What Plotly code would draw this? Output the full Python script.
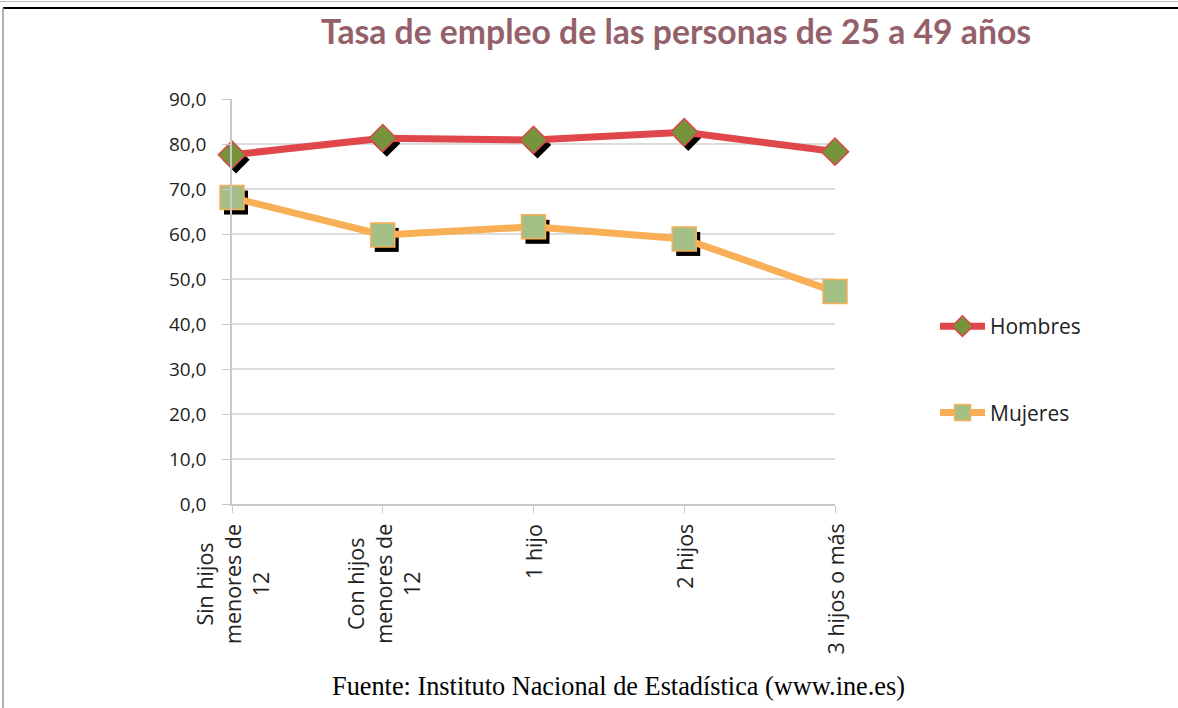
import plotly.graph_objects as go

categories = ["Sin hijos<br>menores de<br>12", "Con hijos<br>menores de<br>12", "1 hijo", "2 hijos", "3 hijos o más"]
hombres = [77.6, 81.3, 80.9, 82.6, 78.3]
mujeres = [68.1, 59.8, 61.6, 58.9, 47.2]
y_ticks = [0, 10, 20, 30, 40, 50, 60, 70, 80, 90]

W, H = 1178, 708
L, R, T, B = 232, 343, 99, 204
pw, ph = W - L - R, H - T - B
xs = list(range(len(categories)))

def px2paper_x(p):
    return (p - L) / pw

def px2paper_y(p):
    return (H - B - p) / ph

# shadow offsets (pixels -> data units)
sx = 4 / pw * (len(categories) - 1)
sy = 5 / ph * 90

fig = go.Figure()

series = [
    ("Hombres", hombres, "#E0474A", "diamond", 21, "#77933C", "#D9484A"),
    ("Mujeres", mujeres, "#F9AF55", "square", 24, "#A4BF86", "#F9AF55"),
]
for name, vals, lc, sym, sz, fc, oc in series:
    fig.add_trace(go.Scatter(
        x=[x + sx for x in xs], y=[v - sy for v in vals], mode="markers",
        marker=dict(symbol=sym, size=sz, color="black", line=dict(width=0)),
        showlegend=False, hoverinfo="skip", cliponaxis=False))
    fig.add_trace(go.Scatter(
        x=xs, y=vals, mode="lines+markers", name=name,
        line=dict(color=lc, width=7),
        marker=dict(symbol=sym, size=sz, color=fc, line=dict(color=oc, width=1.5)),
        cliponaxis=False, legendgroup=name))

annotations = [dict(text="Fuente: Instituto Nacional de Estadística (www.ine.es)",
                    xref="paper", yref="paper", x=px2paper_x(618), y=px2paper_y(686),
                    xanchor="center", yanchor="middle", showarrow=False,
                    font=dict(family="Liberation Serif, serif", size=26.3, color="black"))]
for i, cat in enumerate(categories):
    annotations.append(dict(text=cat, xref="x", yref="paper", x=i, y=px2paper_y(522),
                            xanchor="center", yanchor="top", textangle=-90, align="center",
                            showarrow=False,
                            font=dict(family="Open Sans, sans-serif", size=21.5, color="#222")))

fig.update_layout(
    width=W, height=H,
    margin=dict(l=L, r=R, t=T, b=B),
    paper_bgcolor="white", plot_bgcolor="white",
    separators=",.",
    font=dict(family="Open Sans, sans-serif", color="#222"),
    title=dict(text="<b>Tasa de empleo de las personas de 25 a 49 años</b>",
               x=676 / W, xanchor="center", y=1 - 32 / H, yanchor="middle",
               font=dict(family="Lato, sans-serif", size=33.7, color="#94606A")),
    showlegend=True,
    legend=dict(x=px2paper_x(935), y=px2paper_y(306), xanchor="left", yanchor="top",
                font=dict(size=21, family="Open Sans, sans-serif", color="#222"),
                itemwidth=45, tracegroupgap=56, bgcolor="rgba(0,0,0,0)"),
    xaxis=dict(range=[0, len(categories) - 1], tickmode="array", tickvals=xs,
               showticklabels=False, showgrid=False, zeroline=False,
               showline=True, linecolor="#C8C8C8", linewidth=1.5,
               ticks="outside", ticklen=7, tickcolor="#C8C8C8"),
    yaxis=dict(range=[0, 90], tickmode="array", tickvals=y_ticks, tickformat=".1f",
               showgrid=True, gridcolor="#DCDCDC", gridwidth=1.5, zeroline=False,
               showline=True, linecolor="#C8C8C8", linewidth=1.5,
               ticks="outside", ticklen=8, tickcolor="#C8C8C8",
               ticklabelstandoff=12,
               tickfont=dict(size=19, family="Open Sans, sans-serif", color="#222")),
    annotations=annotations,
    shapes=[
        dict(type="line", xref="paper", yref="paper", x0=px2paper_x(3), x1=px2paper_x(1178),
             y0=px2paper_y(8), y1=px2paper_y(8), line=dict(color="black", width=2)),
        dict(type="line", xref="paper", yref="paper", x0=px2paper_x(0), x1=px2paper_x(1178),
             y0=px2paper_y(1.5), y1=px2paper_y(1.5), line=dict(color="#BBBBBB", width=1)),
        dict(type="line", xref="paper", yref="paper", x0=px2paper_x(3), x1=px2paper_x(3),
             y0=px2paper_y(8), y1=px2paper_y(708), line=dict(color="#999999", width=1.5)),
    ],
)

fig.write_html("out.html", config={"displayModeBar": False},
               post_script="document.body.style.margin='0px';")
